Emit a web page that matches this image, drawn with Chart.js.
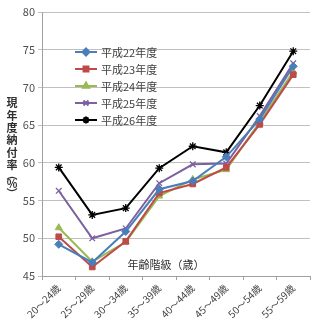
<!DOCTYPE html>
<html>
<head>
<meta charset="utf-8">
<script src="https://cdn.jsdelivr.net/npm/chart.js"></script>
<style>
  html, body { margin: 0; padding: 0; background: #fff; }
  #wrap { width: 323px; height: 333px; position: relative; }
</style>
</head>
<body>
<div id="wrap"><canvas id="myChart"></canvas></div>
<script>
// データ
var categories = ['20～24歳', '25～29歳', '30～34歳', '35～39歳', '40～44歳', '45～49歳', '50～54歳', '55～59歳'];
var seriesNames = ['平成22年度', '平成23年度', '平成24年度', '平成25年度', '平成26年度'];
var h22 = [49.2, 46.8, 50.9, 56.5, 57.6, 60.8, 65.8, 72.8];
var h23 = [50.2, 46.2, 49.6, 56.0, 57.2, 59.4, 65.1, 71.7];
var h24 = [51.4, 46.9, 49.5, 55.6, 57.8, 59.1, 65.4, 72.1];
var h25 = [56.3, 50.0, 51.3, 57.3, 59.8, 59.9, 66.2, 73.2];
var h26 = [59.4, 53.1, 54.0, 59.3, 62.2, 61.4, 67.6, 74.8];
var yTicks = [45, 50, 55, 60, 65, 70, 75, 80];

var colors = ['#4A7EBB', '#BE4B48', '#98B954', '#7D60A0', '#000000'];
var markers = ['rectRot', 'rect', 'triangle', 'crossRot', 'star'];
var values = [h22, h23, h24, h25, h26];

var fontFamily = '"Noto Sans CJK JP", "Noto Sans", sans-serif';

var datasets = values.map(function(v, i) {
    return {
        label: seriesNames[i],
        data: v,
        borderColor: colors[i],
        backgroundColor: colors[i],
        borderWidth: 2,
        pointStyle: markers[i],
        pointRadius: 4,
        pointBorderWidth: (markers[i] === 'crossRot' || markers[i] === 'star') ? 1.3 : 1,
        tension: 0
    };
});

// 凡例・軸タイトル
var extraText = {
    id: 'extraText',
    afterDraw: function(chart) {
        var ctx = chart.ctx;
        ctx.save();
        // 凡例
        var lx = 75, ly = 52;
        ctx.font = '11px ' + fontFamily;
        ctx.textBaseline = 'middle';
        chart.data.datasets.forEach(function(ds, i) {
            var y = ly + i * 17;
            ctx.strokeStyle = ds.borderColor;
            ctx.lineWidth = 2;
            ctx.beginPath();
            ctx.moveTo(lx, y);
            ctx.lineTo(lx + 22, y);
            ctx.stroke();
            ctx.fillStyle = ds.borderColor;
            Chart.helpers.drawPoint(ctx, {
                pointStyle: ds.pointStyle,
                radius: 3.5,
                borderWidth: ds.pointBorderWidth,
                rotation: 0
            }, lx + 11, y);
            ctx.fillStyle = '#404040';
            ctx.textAlign = 'left';
            ctx.fillText(ds.label, lx + 26, y + 1);
        });

        // 縦軸タイトル
        ctx.fillStyle = '#303030';
        ctx.font = 'bold 11px ' + fontFamily;
        ctx.textAlign = 'center';
        var chars = ['現', '年', '度', '納', '付', '率', '︵', '%', '︶'];
        var cy = [103, 115.4, 127.8, 140.2, 152.6, 165, 175, 184, 194];
        chars.forEach(function(c, i) {
            ctx.fillText(c, 12, cy[i]);
        });

        // 横軸タイトル
        ctx.font = '11px ' + fontFamily;
        ctx.fillStyle = '#303030';
        ctx.fillText('年齢階級（歳）', 166, 265);
        ctx.restore();
    }
};

var ctx = document.getElementById('myChart').getContext('2d');
var myChart = new Chart(ctx, {
    type: 'line',
    data: {
        labels: categories,
        datasets: datasets
    },
    options: {
        responsive: true,
        maintainAspectRatio: false,
        animation: false,
        layout: {
            padding: { top: 12, right: 13, left: 0, bottom: 0 }
        },
        plugins: {
            legend: { display: false },
            tooltip: { enabled: false }
        },
        scales: {
            y: {
                min: 45,
                max: 80,
                afterBuildTicks: function(axis) {
                    axis.ticks = yTicks.map(function(v) { return { value: v }; });
                },
                afterFit: function(axis) { axis.width = 42; },
                grid: {
                    color: '#C0C0C0',
                    lineWidth: 1,
                    drawTicks: true,
                    tickLength: 4
                },
                border: { color: '#A0A0A0' },
                ticks: {
                    color: '#505050',
                    padding: 3,
                    font: { size: 11, family: fontFamily }
                }
            },
            x: {
                offset: true,
                afterFit: function(axis) { axis.height = 57; },
                grid: {
                    offset: true,
                    display: true,
                    drawOnChartArea: false,
                    drawTicks: true,
                    tickLength: 4,
                    color: '#A0A0A0'
                },
                border: { color: '#A0A0A0' },
                ticks: {
                    color: '#404040',
                    minRotation: 45,
                    maxRotation: 45,
                    padding: 2,
                    font: { size: 10, family: fontFamily }
                }
            }
        }
    },
    plugins: [extraText]
});
</script>
</body>
</html>
